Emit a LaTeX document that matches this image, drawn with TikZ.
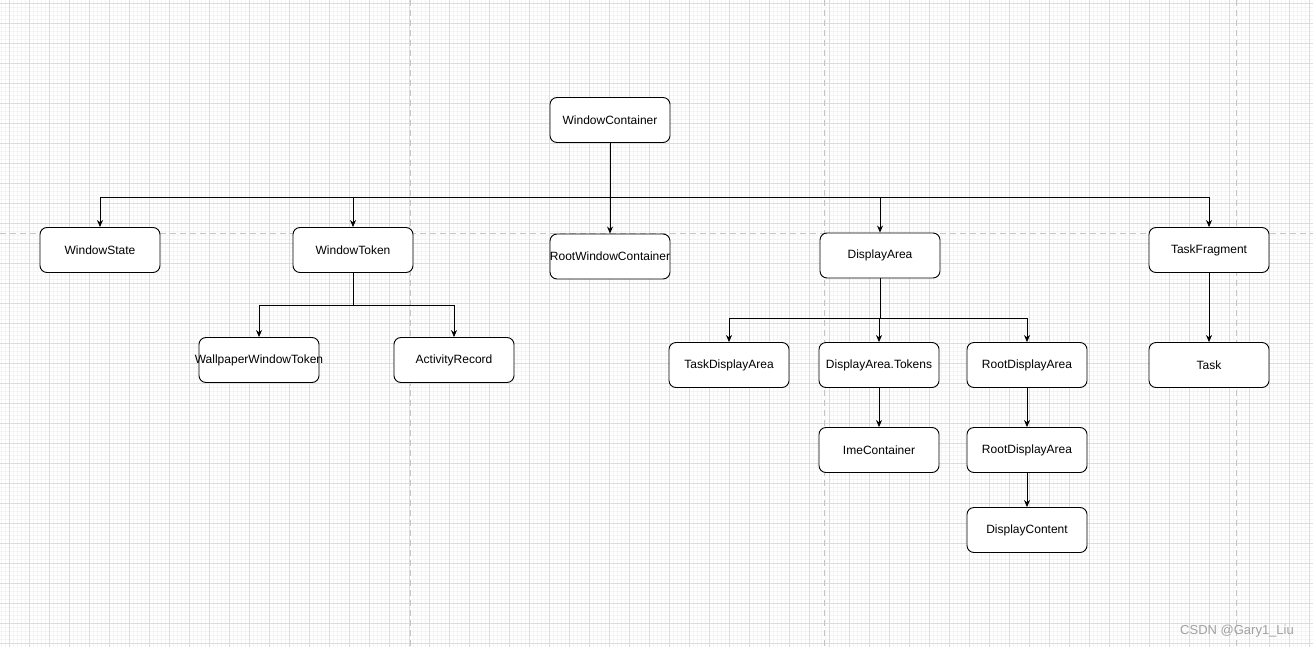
\documentclass[tikz,border=0pt]{standalone}
\usepackage{fontspec}
\setmainfont{Liberation Sans}
\usetikzlibrary{arrows.meta}
\definecolor{minorgrid}{HTML}{F4F4F4}
\definecolor{majorgrid}{HTML}{DCDCDC}
\definecolor{pagebreak}{HTML}{C4C4C4}
\definecolor{wm}{HTML}{A0A0A0}
\tikzset{
  box/.style={draw=black, fill=white, rounded corners=7pt, line width=0.9pt,
    minimum width=120pt, minimum height=45pt, inner sep=0pt,
    font=\fontsize{12}{14}\selectfont},
  conn/.style={draw=black, line width=0.85pt, -{Stealth[length=7pt,width=6pt]}},
  plainconn/.style={draw=black, line width=0.85pt},
}
\begin{document}
\begin{tikzpicture}[x=1pt,y=-1pt]
\useasboundingbox (0,0) rectangle (1313,647);
\fill[white] (0,0) rectangle (1313,647);
% minor grid
\foreach \x in {1,5,...,1313} \draw[minorgrid, line width=0.6pt] (\x,0) -- (\x,647);
\foreach \y in {3,7,...,647} \draw[minorgrid, line width=0.6pt] (0,\y) -- (1313,\y);
% major grid
\foreach \x in {9,29,...,1313} \draw[majorgrid, line width=0.8pt] (\x,0) -- (\x,647);
\foreach \y in {3,23,...,647} \draw[majorgrid, line width=0.8pt] (0,\y) -- (1313,\y);
% page breaks
\foreach \x in {410,824,1236} \draw[pagebreak, line width=0.9pt, dash pattern=on 6pt off 4pt] (\x,0) -- (\x,647);
\draw[pagebreak, line width=0.9pt, dash pattern=on 6pt off 4pt] (0,233) -- (1313,233);

% nodes
\node[box] (wc) at (610,120) {WindowContainer};
\node[box] (ws) at (100,250) {WindowState};
\node[box] (wt) at (353,250) {WindowToken};
\node[box] (rwc) at (610,256.5) {\makebox[0pt]{RootWindowContainer}};
\node[box] (da) at (880,255.5) {DisplayArea};
\node[box] (tf) at (1209,250) {TaskFragment};
\node[box] (wwt) at (259,360) {\makebox[0pt]{WallpaperWindowToken}};
\node[box] (ar) at (454,360) {ActivityRecord};
\node[box] (tda) at (729,365) {TaskDisplayArea};
\node[box] (dat) at (879,365) {DisplayArea.Tokens};
\node[box] (rda) at (1027,365) {RootDisplayArea};
\node[box] (ime) at (879,450) {ImeContainer};
\node[box] (rda2) at (1027,450) {RootDisplayArea};
\node[box] (dc) at (1027,530) {DisplayContent};
\node[box] (task) at (1209,365) {Task};

% junction coordinates
\coordinate (bus) at (610,197);
\coordinate (wtj) at (353,305);
\coordinate (daj) at (880,318);

% connectors
\draw[conn] (wc.south) -- (rwc.north);
\draw[conn] (bus) -| (ws.north);
\draw[conn] (bus) -| (wt.north);
\draw[conn] (bus) -| (da.north);
\draw[conn] (bus) -| (tf.north);
\draw[plainconn] (wt.south) -- (wtj);
\draw[conn] (wtj) -| (wwt.north);
\draw[conn] (wtj) -| (ar.north);
\draw[plainconn] (da.south) -- (daj);
\draw[conn] (daj) -| (tda.north);
\draw[conn] (daj) -| (dat.north);
\draw[conn] (daj) -| (rda.north);
\draw[conn] (dat) -- (ime);
\draw[conn] (rda) -- (rda2);
\draw[conn] (rda2) -- (dc);
\draw[conn] (tf) -- (task);

% watermark
\node[text=wm, font=\fontsize{13}{15}\selectfont] (wmk) at (1237,631) {CSDN @Gary1\_Liu};
\end{tikzpicture}
\end{document}
